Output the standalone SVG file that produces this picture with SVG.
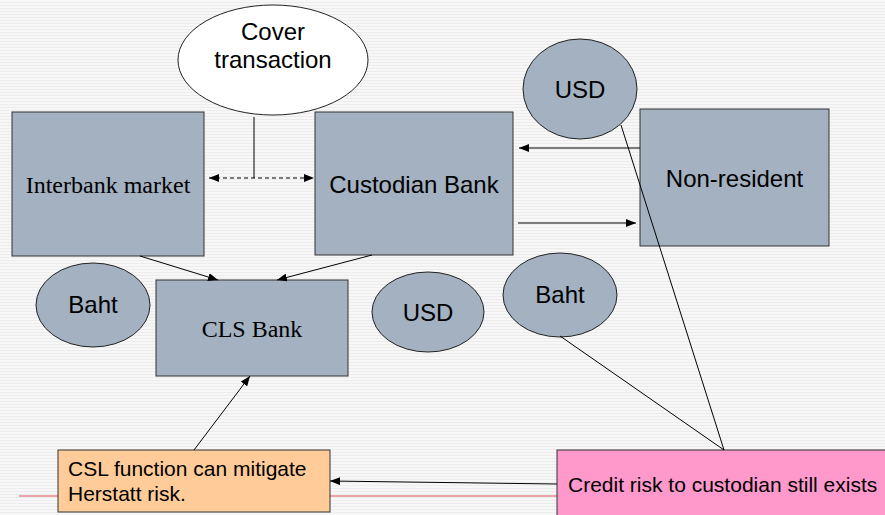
<svg xmlns="http://www.w3.org/2000/svg" width="885" height="515" viewBox="0 0 885 515">
<defs>
<pattern id="bg" width="6" height="3" patternUnits="userSpaceOnUse">
<rect width="6" height="3" fill="#f7f7f7"/>
<rect y="2" width="6" height="1" fill="#ececec"/>
</pattern>
<marker id="ah" markerWidth="10" markerHeight="8" refX="10" refY="4" orient="auto-start-reverse" markerUnits="userSpaceOnUse">
<path d="M0,0 L10,4 L0,8 z" fill="#000"/>
</marker>
<style>
.box{fill:#a3b1c0;stroke:#333;stroke-width:1}
.ell{fill:#a3b1c0;stroke:#222;stroke-width:1}
.t{font-family:"Liberation Sans",Arial,sans-serif;font-size:24px;fill:#000;text-anchor:middle}
.tr{font-family:"Liberation Serif","Times New Roman",serif;font-size:24px;fill:#000;text-anchor:middle}
.ts{font-family:"Liberation Sans",Arial,sans-serif;font-size:21px;fill:#000}
.ln{stroke:#000;stroke-width:1;fill:none}
.arr{stroke:#000;stroke-width:1;fill:none;marker-end:url(#ah)}
</style>
</defs>
<rect width="885" height="515" fill="url(#bg)"/>
<line x1="19" y1="496" x2="557" y2="496" stroke="#e0505a" stroke-width="1"/>
<g id="cover">
<ellipse cx="273" cy="60" rx="95" ry="55" fill="#fff" stroke="#222"/>
<text class="t" x="273" y="40">Cover</text>
<text class="t" x="273" y="68">transaction</text>
</g>
<g id="interbank">
<rect class="box" x="12" y="112" width="192" height="144"/>
<text class="tr" x="108" y="193">Interbank market</text>
</g>
<g id="custodian">
<rect class="box" x="315" y="112" width="198" height="143"/>
<text class="t" x="414" y="193">Custodian Bank</text>
</g>
<g id="usd-top">
<ellipse class="ell" cx="580" cy="89" rx="57" ry="50"/>
<text class="t" x="580" y="98">USD</text>
</g>
<g id="nonresident">
<rect class="box" x="640" y="109" width="189" height="137"/>
<text class="t" x="734.5" y="187">Non-resident</text>
</g>
<g id="baht-left">
<ellipse class="ell" cx="93" cy="305" rx="57" ry="42"/>
<text class="t" x="93" y="313">Baht</text>
</g>
<g id="cls">
<rect class="box" x="156" y="280" width="192" height="96"/>
<text class="tr" x="252" y="337">CLS Bank</text>
</g>
<g id="usd-mid">
<ellipse class="ell" cx="428" cy="312" rx="56" ry="40"/>
<text class="t" x="428" y="321">USD</text>
</g>
<g id="baht-right">
<ellipse class="ell" cx="560" cy="295" rx="57" ry="42"/>
<text class="t" x="560" y="303">Baht</text>
</g>
<g id="csl">
<rect x="58" y="450" width="272" height="62" fill="#ffcc99" stroke="#333"/>
<text class="ts" x="68" y="476">CSL function can mitigate</text>
<text class="ts" x="68" y="501">Herstatt risk.</text>
</g>
<g id="credit">
<rect x="557" y="450" width="340" height="80" fill="#ff99cc" stroke="#333"/>
<text class="ts" x="568" y="492">Credit risk to custodian still exists</text>
</g>
<g id="connectors">
<line class="ln" x1="254" y1="117" x2="254" y2="178"/>
<line class="ln" x1="209" y1="178" x2="314" y2="178" stroke-dasharray="4,3" marker-start="url(#ah)" marker-end="url(#ah)"/>
<line class="arr" x1="640" y1="148" x2="519" y2="148"/>
<line class="arr" x1="518" y1="223" x2="636" y2="223"/>
<line class="arr" x1="140" y1="256" x2="218" y2="280"/>
<line class="arr" x1="372" y1="255" x2="277" y2="280"/>
<line class="arr" x1="194" y1="450" x2="250" y2="376"/>
<line class="arr" x1="557" y1="484" x2="330" y2="481"/>
<line class="ln" x1="621" y1="125" x2="724" y2="450"/>
<line class="ln" x1="560" y1="336" x2="724" y2="450"/>
</g>
</svg>
